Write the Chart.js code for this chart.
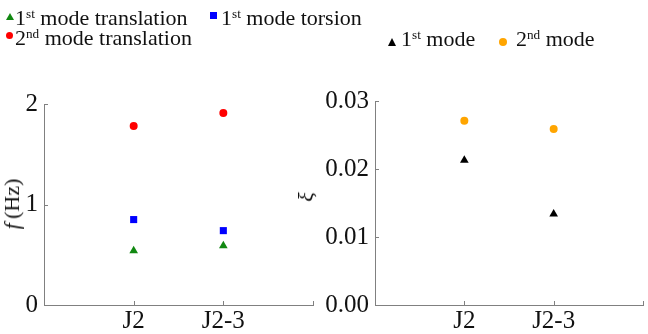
<!DOCTYPE html>
<html>
<head>
<meta charset="utf-8">
<script src="https://cdn.jsdelivr.net/npm/chart.js@4/dist/chart.umd.min.js"></script>
<style>
  html, body { margin:0; padding:0; background:#fff; }
  body { width:648px; height:334px; position:relative; overflow:hidden; font-family:"Liberation Serif","Times New Roman",serif; color:#111; }
  canvas { position:absolute; top:0; }
  .lg { position:absolute; font-size:22px; line-height:22px; white-space:nowrap; }
  .lg .s { font-size:0.6em; position:relative; top:-0.5em; }
  .mk { position:absolute; }
  .tri { width:0; height:0; border-left:4px solid transparent; border-right:4px solid transparent; }
  .ttl { position:absolute; font-size:22px; line-height:22px; white-space:nowrap; transform:translate(-50%,-50%) rotate(-90deg); }
</style>
</head>
<body>
<canvas id="cL" width="320" height="334" style="left:0;width:320px;height:334px"></canvas>
<canvas id="cR" width="358" height="334" style="left:290px;width:358px;height:334px"></canvas>

<!-- legends -->
<div class="mk tri" style="left:6px;top:13px;border-bottom:7px solid #118811;"></div>
<div class="lg" style="left:15px;top:7px">1<span class="s">st</span> mode translation</div>
<div class="mk" style="left:210px;top:12px;width:7px;height:7px;background:#0000ff;"></div>
<div class="lg" style="left:221px;top:7px">1<span class="s">st</span> mode torsion</div>
<div class="mk" style="left:6px;top:32px;width:7px;height:7px;border-radius:50%;background:#ff0000;"></div>
<div class="lg" style="left:15px;top:27px">2<span class="s">nd</span> mode translation</div>
<div class="mk tri" style="left:388px;top:38px;border-bottom:8px solid #000;"></div>
<div class="lg" style="left:401px;top:28px">1<span class="s">st</span> mode</div>
<div class="mk" style="left:499px;top:38px;width:8px;height:8px;border-radius:50%;background:#ffa500;"></div>
<div class="lg" style="left:516px;top:28px">2<span class="s">nd</span> mode</div>

<!-- axis titles -->
<div class="ttl" style="left:12px;top:204px"><i>f</i>&#8201;(Hz)</div>
<div class="ttl" style="left:306px;top:197px"><i>&xi;</i></div>

<script>
const categories = ['J2', 'J2-3'];
const freqTicks = [0, 1, 2];
const dampTicks = [0, 0.01, 0.02, 0.03];
const freq1stTranslation = [0.54, 0.59];
const freq1stTorsion = [0.85, 0.74];
const freq2ndTranslation = [1.78, 1.91];
const damp1stMode = [0.0213, 0.0134];
const damp2ndMode = [0.0271, 0.0259];

const toPts = arr => arr.map((v, i) => ({ x: i + 1, y: v }));
const AXIS = '#808080';
const FONT = { family: '"Liberation Serif","Times New Roman",serif', size: 25 };

const innerTicks = {
  id: 'innerTicks',
  afterDraw(chart) {
    const ctx = chart.ctx;
    const xs = chart.scales.x, ys = chart.scales.y;
    ctx.save();
    ctx.strokeStyle = AXIS;
    ctx.lineWidth = 1;
    ctx.beginPath();
    xs.ticks.forEach(t => {
      const px = Math.round(xs.getPixelForValue(t.value)) + 0.5;
      ctx.moveTo(px, xs.top);
      ctx.lineTo(px, xs.top - 4);
    });
    ys.ticks.forEach(t => {
      const py = Math.round(ys.getPixelForValue(t.value)) + 0.5;
      ctx.moveTo(ys.right, py);
      ctx.lineTo(ys.right + 4, py);
    });
    ctx.stroke();
    ctx.restore();
  }
};

function makeChart(id, datasets, yMin, yMax, yTicks, yFmt, yWidth, pad) {
  return new Chart(document.getElementById(id), {
    type: 'scatter',
    data: { datasets },
    plugins: [innerTicks],
    options: {
      responsive: false,
      animation: false,
      devicePixelRatio: 1,
      layout: { padding: pad },
      plugins: { legend: { display: false }, tooltip: { enabled: false } },
      scales: {
        x: {
          type: 'linear', min: 0, max: 3,
          afterBuildTicks: s => { s.ticks = [0, 1, 2, 3].map(v => ({ value: v })); },
          ticks: {
            font: FONT, color: '#111', padding: 1, maxRotation: 0, autoSkip: false,
            callback: v => (v >= 1 && v <= categories.length) ? categories[v - 1] : ''
          },
          grid: { display: true, drawOnChartArea: false, drawTicks: false, color: 'rgba(0,0,0,0)' },
          border: { display: true, color: AXIS, width: 1 },
          afterFit: s => { s.height = 29; }
        },
        y: {
          type: 'linear', min: yMin, max: yMax,
          afterBuildTicks: s => { s.ticks = yTicks.map(v => ({ value: v })); },
          ticks: { font: FONT, color: '#111', padding: 6, callback: yFmt },
          grid: { display: true, drawOnChartArea: false, drawTicks: false, color: 'rgba(0,0,0,0)' },
          border: { display: true, color: AXIS, width: 1 },
          afterFit: s => { s.width = yWidth; }
        }
      }
    }
  });
}

makeChart('cL', [
  { label: '1st mode translation', data: toPts(freq1stTranslation), pointStyle: 'triangle', pointRadius: 5, backgroundColor: '#118811', borderColor: '#118811', borderWidth: 0 },
  { label: '1st mode torsion', data: toPts(freq1stTorsion), pointStyle: 'rect', pointRadius: 5, backgroundColor: '#0000ff', borderColor: '#0000ff', borderWidth: 0 },
  { label: '2nd mode translation', data: toPts(freq2ndTranslation), pointStyle: 'circle', pointRadius: 4, backgroundColor: '#ff0000', borderColor: '#ff0000', borderWidth: 0 }
], 0, 2, freqTicks, v => String(v), 44, { top: 104, right: 7, bottom: 0, left: 0 });

makeChart('cR', [
  { label: '1st mode', data: toPts(damp1stMode), pointStyle: 'triangle', pointRadius: 5, backgroundColor: '#000', borderColor: '#000', borderWidth: 0 },
  { label: '2nd mode', data: toPts(damp2ndMode), pointStyle: 'circle', pointRadius: 4, backgroundColor: '#ffa500', borderColor: '#ffa500', borderWidth: 0 }
], 0, 0.03, dampTicks, v => Number(v).toFixed(2), 85, { top: 101, right: 1, bottom: 0, left: 0 });
</script>
</body>
</html>
